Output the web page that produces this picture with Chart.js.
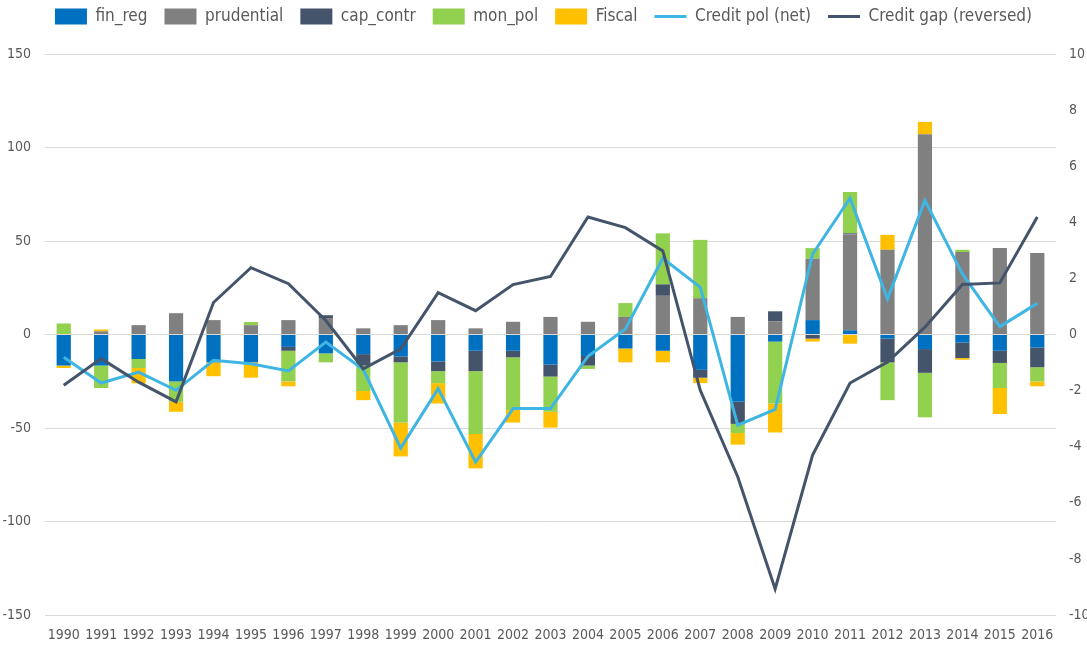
<!DOCTYPE html>
<html><head><meta charset="utf-8">
<script src="https://cdn.jsdelivr.net/npm/chart.js@4.4.1/dist/chart.umd.min.js"></script>
<style>html,body{margin:0;padding:0;background:#fff}#wrap{width:1087px;height:645px;position:relative}</style>
</head><body><div id="wrap"><canvas id="c" width="1087" height="645"></canvas></div>
<script>
const years = ["1990","1991","1992","1993","1994","1995","1996","1997","1998","1999","2000","2001","2002","2003","2004","2005","2006","2007","2008","2009","2010","2011","2012","2013","2014","2015","2016"];
const finReg     = [-16.6,-16.6,-13.1,-25.1,-14.9,-14.9,-6.6,-10.1,-10.5,-11.7,-14.4,-8.7,-8.7,-16.1,-11.5,-7.5,-8.7,-18.9,-36.0,-3.8,7.7,2.2,-2.2,-7.8,-4.3,-8.7,-7.0];
const prudential = [0,1.7,5.0,11.4,7.7,5.0,7.7,8.8,3.3,5.0,7.7,3.3,6.8,9.4,6.8,9.4,20.7,19.4,9.4,7.1,32.9,51.3,45.3,107.1,44.1,46.2,43.6];
const capContr   = [0,0,0,0,0,0,-2.1,1.5,-6.1,-3.2,-5.2,-10.9,-3.5,-6.4,-5.1,0,6.1,-4.2,-11.8,5.3,-2.2,0.6,-12.7,-12.7,-8.3,-6.5,-10.5];
const monPol     = [5.9,-12.0,-4.8,-10.9,0,1.7,-16.4,-4.8,-13.6,-32.2,-6.4,-33.6,-28.2,-18.8,-1.8,7.4,27.3,31.2,-4.9,-33.1,5.6,22.1,-20.2,-23.8,1.2,-13.4,-7.6];
const fiscal     = [-1.3,1.0,-8.2,-5.3,-7.4,-8.2,-2.6,0,-4.9,-18.1,-10.9,-18.4,-6.7,-8.5,0,-7.4,-6.2,-2.9,-6.2,-15.5,-1.6,-4.9,8.0,6.6,-0.9,-13.9,-2.6];
const creditPol  = [-0.81,-1.73,-1.34,-1.99,-0.92,-1.04,-1.30,-0.27,-1.25,-4.05,-1.93,-4.55,-2.64,-2.64,-0.78,0.20,2.72,1.68,-3.23,-2.67,2.87,4.86,1.27,4.78,2.16,0.28,1.11];
const creditGap  = [-1.81,-0.86,-1.70,-2.40,1.14,2.38,1.81,0.50,-1.22,-0.51,1.49,0.85,1.78,2.07,4.19,3.81,2.98,-1.99,-5.07,-9.07,-4.30,-1.73,-0.98,0.26,1.78,1.84,4.19];
const leftTicks = [-150,-100,-50,0,50,100,150];
const rightTicks = [-10,-8,-6,-4,-2,0,2,4,6,8,10];

const FONT = "'Liberation Sans Narrow','DejaVu Sans Condensed','Liberation Sans',sans-serif";
const TXT = '#595959';
function bar(label, data, color){
  return {type:'bar', label, data, backgroundColor:color, borderWidth:0, yAxisID:'y', stack:'s', order:2,
          categoryPercentage:1, barPercentage:0.38, pointStyle:'rect'};
}
function line(label, data, color, ord){
  return {type:'line', label, data, borderColor:color, backgroundColor:color, borderWidth:3, pointRadius:0,
          tension:0, yAxisID:'y2', order:ord, pointStyle:'line', fill:false};
}
const legendMargin = {id:'legendMargin', beforeInit(chart){
  const fit = chart.legend.fit;
  chart.legend.fit = function(){ fit.bind(chart.legend)(); this.height += 19; };
}};
new Chart(document.getElementById('c'), {
  plugins:[legendMargin],
  data:{labels:years, datasets:[
    bar('fin_reg', finReg, '#0070C0'),
    bar('prudential', prudential, '#808080'),
    bar('cap_contr', capContr, '#44546A'),
    bar('mon_pol', monPol, '#92D050'),
    bar('Fiscal', fiscal, '#FFC000'),
    line('Credit pol (net)', creditPol, '#3EB5E2', 1),
    line('Credit gap (reversed)', creditGap, '#44546A', 0)
  ]},
  options:{
    responsive:false, animation:false,
    layout:{padding:{top:-9,bottom:0,left:0,right:0}},
    plugins:{
      tooltip:{enabled:false},
      legend:{position:'top', labels:{font:{family:FONT,size:17}, color:TXT, usePointStyle:true, pointStyleWidth:32,
        boxHeight:16, padding:17, sort:(a,b)=>a.datasetIndex-b.datasetIndex}}
    },
    scales:{
      x:{stacked:true, grid:{display:false, drawTicks:false}, border:{display:false},
         afterFit:a=>{a.height=30;},
         ticks:{font:{family:FONT,size:14}, color:TXT, maxRotation:0, autoSkip:false, padding:12}},
      y:{stacked:true, position:'left', min:-150, max:150,
         afterBuildTicks:a=>{a.ticks=leftTicks.map(v=>({value:v}));},
         afterFit:a=>{a.width=45;},
         grid:{color:'#D9D9D9', lineWidth:1, drawTicks:false}, border:{display:false},
         ticks:{font:{family:FONT,size:14}, color:TXT, padding:14}},
      y2:{position:'right', min:-10, max:10,
         afterBuildTicks:a=>{a.ticks=rightTicks.map(v=>({value:v}));},
         afterFit:a=>{a.width=31;},
         grid:{display:false, drawTicks:false}, border:{display:false},
         ticks:{font:{family:FONT,size:14}, color:TXT, padding:13}}
    }
  }
});
</script></body></html>
